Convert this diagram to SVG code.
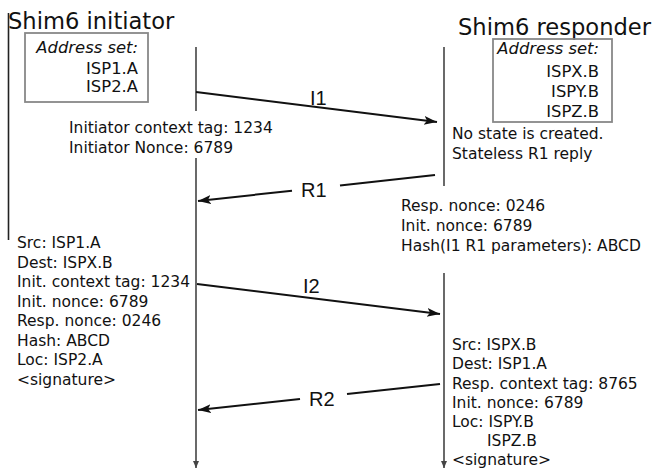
<svg xmlns="http://www.w3.org/2000/svg" width="654" height="469" viewBox="0 0 654 469">
<defs>
<style>
.title{font-family:"DejaVu Sans",sans-serif;font-size:22.6px;fill:#111}
.box{fill:none;stroke:#888;stroke-width:1.8}
.bt{font-family:"DejaVu Sans",sans-serif;font-size:16.4px;fill:#111;text-anchor:end}
.it{font-style:italic}
.t{font-family:"DejaVu Sans",sans-serif;font-size:15.5px;fill:#111}
.lbl{font-family:"Liberation Sans",Arial,sans-serif;font-size:20px;fill:#111}
.life{stroke:#444;stroke-width:1.6;fill:none}
.msg{stroke:#111;stroke-width:2;fill:none}
</style>
<marker id="ah" markerUnits="userSpaceOnUse" markerWidth="14" markerHeight="10" refX="13" refY="4.5" orient="auto">
<path d="M0,0 L13,4.5 L0,9 L3,4.5 z" fill="#111"/>
</marker>
<marker id="ld" markerUnits="userSpaceOnUse" markerWidth="8" markerHeight="8" refX="7" refY="3" orient="auto">
<path d="M0,0 L7,3 L0,6 z" fill="#444"/>
</marker>
</defs>

<g id="initiator">
<text class="title" x="8" y="29">Shim6 initiator</text>
<line x1="8.5" y1="13" x2="8.5" y2="240" stroke="#222" stroke-width="1.6"/>
<rect class="box" x="25" y="33" width="123" height="69"/>
<text class="bt it" x="138" y="53">Address set:</text>
<text class="bt" x="138" y="74">ISP1.A</text>
<text class="bt" x="138" y="92">ISP2.A</text>
<line class="life" x1="196" y1="47" x2="196" y2="111"/>
<line class="life" x1="196" y1="158" x2="196" y2="468" marker-end="url(#ld)"/>
<text class="t" x="69" y="133">Initiator context tag: 1234</text>
<text class="t" x="69" y="153">Initiator Nonce: 6789</text>
<text class="t" x="17" y="248">Src: ISP1.A</text>
<text class="t" x="17" y="267.5">Dest: ISPX.B</text>
<text class="t" x="17" y="287">Init. context tag: 1234</text>
<text class="t" x="17" y="306.5">Init. nonce: 6789</text>
<text class="t" x="17" y="326">Resp. nonce: 0246</text>
<text class="t" x="17" y="345.5">Hash: ABCD</text>
<text class="t" x="17" y="365">Loc: ISP2.A</text>
<text class="t" x="17" y="384.5">&lt;signature&gt;</text>
</g>

<g id="responder">
<text class="title" x="458" y="35">Shim6 responder</text>
<rect class="box" x="493" y="39" width="119" height="83"/>
<text class="bt it" x="599" y="54">Address set:</text>
<text class="bt" x="599" y="77">ISPX.B</text>
<text class="bt" x="599" y="97">ISPY.B</text>
<text class="bt" x="599" y="117">ISPZ.B</text>
<line class="life" x1="444" y1="47" x2="444" y2="186"/>
<line class="life" x1="444" y1="273" x2="444" y2="468" marker-end="url(#ld)"/>
<text class="t" x="452" y="139">No state is created.</text>
<text class="t" x="452" y="159">Stateless R1 reply</text>
<text class="t" x="401" y="211">Resp. nonce: 0246</text>
<text class="t" x="401" y="231">Init. nonce: 6789</text>
<text class="t" x="401" y="251">Hash(I1 R1 parameters): ABCD</text>
<text class="t" x="452" y="349.5">Src: ISPX.B</text>
<text class="t" x="452" y="369">Dest: ISP1.A</text>
<text class="t" x="452" y="388.5">Resp. context tag: 8765</text>
<text class="t" x="452" y="408">Init. nonce: 6789</text>
<text class="t" x="452" y="427">Loc: ISPY.B</text>
<text class="t" x="487" y="446">ISPZ.B</text>
<text class="t" x="452" y="464.5">&lt;signature&gt;</text>
</g>

<g id="connectors">
<line class="msg" x1="196" y1="92" x2="437" y2="122" marker-end="url(#ah)"/>
<text class="lbl" x="310" y="105">I1</text>
<line class="msg" x1="435" y1="175" x2="340" y2="185.4"/>
<line class="msg" x1="292" y1="190.7" x2="198" y2="201" marker-end="url(#ah)"/>
<text class="lbl" x="301" y="197">R1</text>
<line class="msg" x1="197" y1="284" x2="440" y2="314" marker-end="url(#ah)"/>
<text class="lbl" x="303" y="293">I2</text>
<line class="msg" x1="440" y1="384" x2="347" y2="394"/>
<line class="msg" x1="300" y1="399" x2="198" y2="410" marker-end="url(#ah)"/>
<text class="lbl" x="309" y="406">R2</text>
</g>
</svg>
